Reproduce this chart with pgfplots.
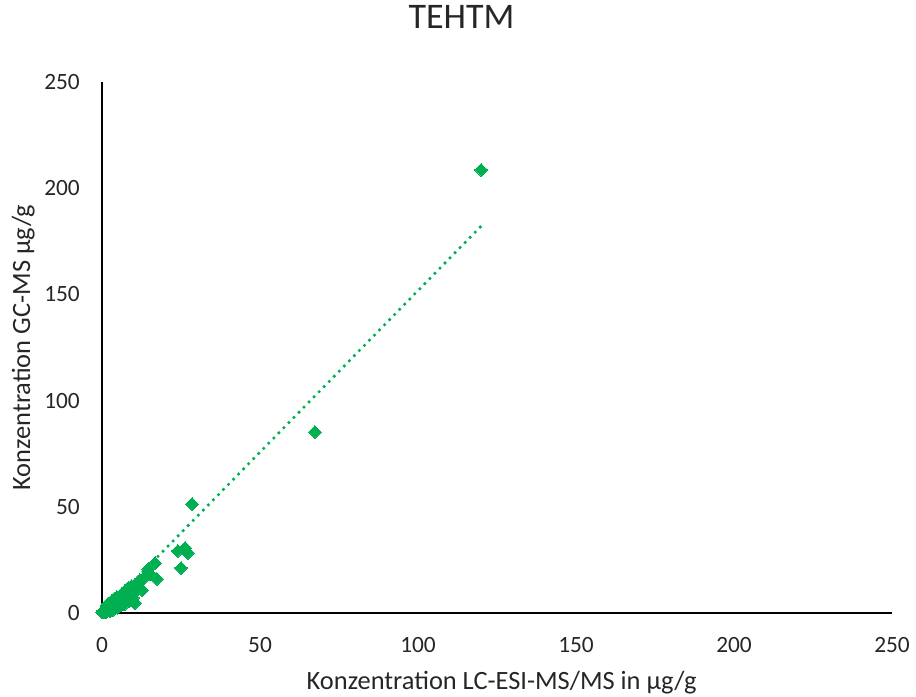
\documentclass[border=0pt]{standalone}
\usepackage{pgfplots}
\pgfplotsset{compat=1.18}
\usepackage{fontspec}
\setmainfont{Carlito}
\definecolor{xlgreen}{HTML}{00B050}
\definecolor{txt}{HTML}{262626}
\begin{document}
\begin{tikzpicture}
\begin{axis}[
  at={(0,0)}, anchor=origin,
  scale only axis,
  width=592.5pt, height=398.25pt,
  xmin=0, xmax=250, ymin=0, ymax=250,
  axis x line=bottom, axis y line=left,
  axis line style={-, black, line width=1.1pt},
  xtick={0,50,...,250}, ytick={0,50,...,250},
  major tick length=0pt,
  tick label style={font=\fontsize{17.5}{20}\selectfont, text=txt},
  /pgf/number format/assume math mode=true,
  xticklabel style={anchor=base, yshift=-29.25pt},
  yticklabel style={anchor=east, inner sep=0pt, xshift=-16.5pt},
  xlabel={Konzentration LC-ESI-MS/MS in µg/g},
  ylabel={Konzentration GC-MS µg/g},
  label style={font=\fontsize{19.8}{22}\selectfont, text=txt},
  xlabel style={at={(axis description cs:0.506,-0.1441)}, anchor=base},
  ylabel style={at={(axis description cs:-0.0911,0.5)}, anchor=base},
  title={TEHTM},
  title style={font=\fontsize{27}{30}\selectfont, text=txt, at={(axis description cs:0.455,1.0866)}, anchor=base},
  clip=false,
]
\addplot[xlgreen, line width=2.7pt, line cap=round, dash pattern=on 0pt off 5.4pt, forget plot]
  coordinates {(0.2,0.0) (120,182.2)};
\addplot[only marks, mark=square*, mark size=3.4pt, mark options={rotate=45, fill=xlgreen, draw=xlgreen, line width=0pt}]
  coordinates {
(0.1,0.2)(0.2,0.3)(0.4,1.0)(0.5,0.8)(0.7,0.3)(0.8,0.5)(1.0,1.5)(1.1,0.2)(1.2,0.9)(1.4,2.6)
(1.5,2.0)(1.7,0.9)(1.8,1.4)(2.0,2.5)(2.1,3.4)(2.2,1.8)(2.4,1.2)(2.5,3.0)(2.7,4.0)(2.8,2.2)
(3.0,3.6)(3.1,1.9)(3.2,2.8)(3.4,4.8)(3.5,4.2)(3.7,2.6)(3.8,3.2)(4.0,4.8)(4.1,5.8)(4.2,3.8)
(4.4,2.9)(4.5,5.5)(4.7,7.5)(4.9,6.4)(5.0,4.5)(5.2,3.6)(5.3,6.2)(5.5,7.6)(5.6,5.0)(5.8,4.2)
(6.0,7.0)(6.2,8.8)(6.3,5.8)(6.5,4.9)(6.7,8.5)(7.0,6.8)(7.2,10.2)(7.3,9.5)(7.5,5.6)(7.8,7.5)
(8.0,9.8)(8.3,11.8)(8.6,9.0)(8.8,6.8)(9.0,10.5)(9.3,12.6)(9.5,8.5)(9.8,7.2)(10.0,12.0)(10.4,13.2)
(1.5,3.5)(2.5,0.8)(3.5,1.5)(5.0,2.5)(6.0,3.5)(4.0,6.8)(3.0,5.5)(7.0,4.0)(8.5,5.5)(2.0,4.5)
(10.4,4.7)(11,11)(11.5,13.8)(12,15.5)(12.7,10.8)(13.6,17)(14.6,20.7)(15.2,18.5)
(16.8,23.5)(17.4,16)(24,29.2)(25,21.2)(26.3,30.6)(27.2,28.2)(28.5,51.3)(67.4,85.2)(120,208.6)
  };
\end{axis}
\pgfresetboundingbox
\useasboundingbox (-76.5pt,-62.25pt) rectangle (610.5pt,459.75pt);
\end{tikzpicture}
\end{document}
